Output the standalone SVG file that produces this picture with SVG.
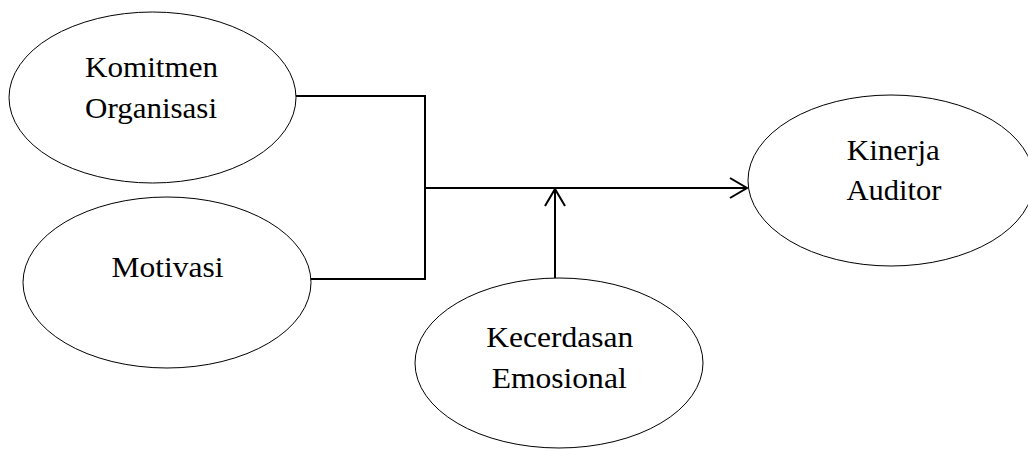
<svg xmlns="http://www.w3.org/2000/svg" width="1028" height="451" viewBox="0 0 1028 451">
<style>
.node ellipse{fill:#fff;stroke:#000;stroke-width:1}
.node text{font-family:"Liberation Serif","Times New Roman",serif;font-size:30px;fill:#000;text-anchor:middle}
.conn{fill:none;stroke:#000;stroke-width:2}
</style>
<defs>
<marker id="arr" markerUnits="userSpaceOnUse" markerWidth="22" markerHeight="24" refX="18" refY="11" orient="auto">
<path d="M1,1 L18,11 L1,21" fill="none" stroke="#000" stroke-width="2"/>
</marker>
</defs>
<rect width="1028" height="451" fill="#fff"/>
<g id="connectors">
<path class="conn" d="M296,96 H425 V279 H311"/>
<path class="conn" d="M425,188 H747" marker-end="url(#arr)"/>
<path class="conn" d="M555,278 V189" marker-end="url(#arr)"/>
</g>
<g id="komitmen" class="node">
<ellipse cx="152.5" cy="97.5" rx="143.5" ry="85.5"/>
<text x="151.5" y="77" textLength="133" lengthAdjust="spacingAndGlyphs">Komitmen</text>
<text x="151" y="118" textLength="132" lengthAdjust="spacingAndGlyphs">Organisasi</text>
</g>
<g id="motivasi" class="node">
<ellipse cx="167" cy="282.5" rx="144" ry="85.5"/>
<text x="167.5" y="277" textLength="112" lengthAdjust="spacingAndGlyphs">Motivasi</text>
</g>
<g id="kinerja" class="node">
<ellipse cx="891" cy="180.5" rx="143" ry="85.5"/>
<text x="893.3" y="159.5" textLength="93" lengthAdjust="spacingAndGlyphs">Kinerja</text>
<text x="894" y="200" textLength="95" lengthAdjust="spacingAndGlyphs">Auditor</text>
</g>
<g id="kecerdasan" class="node">
<ellipse cx="559" cy="363" rx="144" ry="85"/>
<text x="559.7" y="346.7" textLength="147" lengthAdjust="spacingAndGlyphs">Kecerdasan</text>
<text x="559.2" y="388.3" textLength="135" lengthAdjust="spacingAndGlyphs">Emosional</text>
</g>
</svg>
